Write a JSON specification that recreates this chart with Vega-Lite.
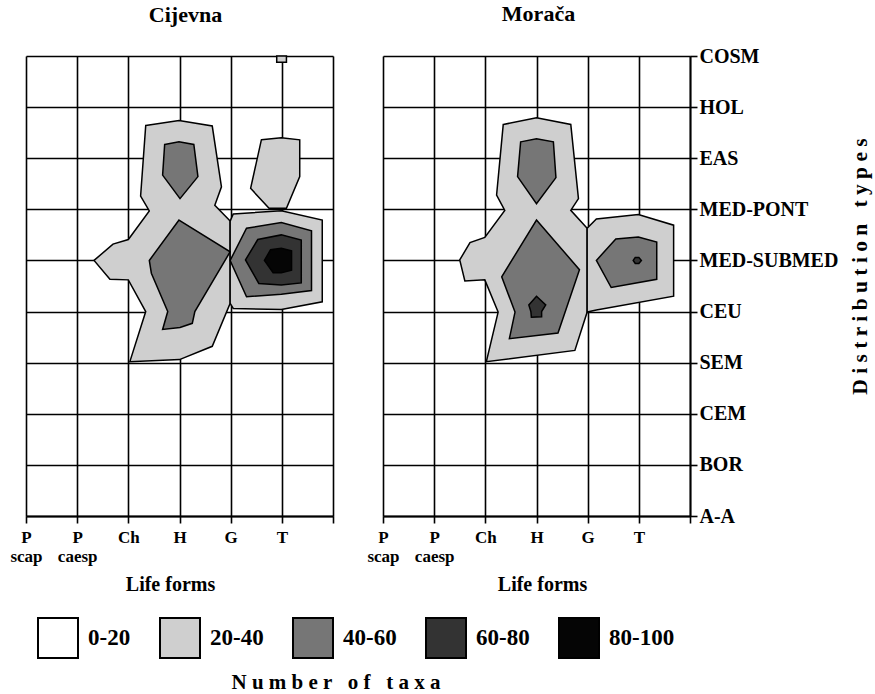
{
  "$schema": "https://vega.github.io/schema/vega-lite/v6.json",
  "padding": {"left": 9, "top": 3, "right": 2, "bottom": 2},
  "background": "white",
  "bounds": "flush",
  "spacing": 50,
  "config": {
    "font": "Liberation Serif",
    "view": {"stroke": null},
    "axis": {
      "labelFont": "Liberation Serif", "labelFontWeight": "bold", "labelColor": "black",
      "titleFont": "Liberation Serif", "titleFontWeight": "bold", "titleColor": "black",
      "gridColor": "black", "gridWidth": 1.6, "gridOpacity": 1,
      "tickColor": "black", "tickWidth": 1.6, "tickSize": 7,
      "domainColor": "black", "domainWidth": 1.8,
      "labelFlush": false, "labelOverlap": false, "labelBound": false, "zindex": 1
    }
  },
  "resolve": {"scale": {"fill": "independent", "x": "independent", "y": "independent"}, "legend": {"fill": "independent"}},
  "datasets": {
    "contours": [
      {"site":"Cijevna","poly":"C1","level":"20-40","i":0,"x":2.34,"y":7.64},
      {"site":"Cijevna","poly":"C1","level":"20-40","i":1,"x":2.99,"y":7.74},
      {"site":"Cijevna","poly":"C1","level":"20-40","i":2,"x":3.64,"y":7.63},
      {"site":"Cijevna","poly":"C1","level":"20-40","i":3,"x":3.82,"y":6.44},
      {"site":"Cijevna","poly":"C1","level":"20-40","i":4,"x":3.69,"y":6.08},
      {"site":"Cijevna","poly":"C1","level":"20-40","i":5,"x":3.99,"y":5.77},
      {"site":"Cijevna","poly":"C1","level":"20-40","i":6,"x":3.99,"y":4.16},
      {"site":"Cijevna","poly":"C1","level":"20-40","i":7,"x":3.64,"y":3.32},
      {"site":"Cijevna","poly":"C1","level":"20-40","i":8,"x":3.0,"y":3.06},
      {"site":"Cijevna","poly":"C1","level":"20-40","i":9,"x":2.03,"y":3.02},
      {"site":"Cijevna","poly":"C1","level":"20-40","i":10,"x":2.34,"y":4.0},
      {"site":"Cijevna","poly":"C1","level":"20-40","i":11,"x":2.0,"y":4.62},
      {"site":"Cijevna","poly":"C1","level":"20-40","i":12,"x":1.64,"y":4.63},
      {"site":"Cijevna","poly":"C1","level":"20-40","i":13,"x":1.33,"y":5.0},
      {"site":"Cijevna","poly":"C1","level":"20-40","i":14,"x":1.7,"y":5.32},
      {"site":"Cijevna","poly":"C1","level":"20-40","i":15,"x":2.0,"y":5.41},
      {"site":"Cijevna","poly":"C1","level":"20-40","i":16,"x":2.41,"y":5.97},
      {"site":"Cijevna","poly":"C1","level":"20-40","i":17,"x":2.24,"y":6.26},
      {"site":"Cijevna","poly":"C2","level":"20-40","i":0,"x":4.6,"y":7.36},
      {"site":"Cijevna","poly":"C2","level":"20-40","i":1,"x":4.99,"y":7.4},
      {"site":"Cijevna","poly":"C2","level":"20-40","i":2,"x":5.35,"y":7.36},
      {"site":"Cijevna","poly":"C2","level":"20-40","i":3,"x":5.35,"y":6.64},
      {"site":"Cijevna","poly":"C2","level":"20-40","i":4,"x":5.09,"y":6.02},
      {"site":"Cijevna","poly":"C2","level":"20-40","i":5,"x":4.75,"y":6.02},
      {"site":"Cijevna","poly":"C2","level":"20-40","i":6,"x":4.39,"y":6.41},
      {"site":"Cijevna","poly":"C3","level":"20-40","i":0,"x":4.05,"y":5.91},
      {"site":"Cijevna","poly":"C3","level":"20-40","i":1,"x":4.99,"y":5.97},
      {"site":"Cijevna","poly":"C3","level":"20-40","i":2,"x":5.79,"y":5.79},
      {"site":"Cijevna","poly":"C3","level":"20-40","i":3,"x":5.79,"y":4.19},
      {"site":"Cijevna","poly":"C3","level":"20-40","i":4,"x":4.99,"y":4.04},
      {"site":"Cijevna","poly":"C3","level":"20-40","i":5,"x":4.05,"y":4.06},
      {"site":"Cijevna","poly":"C3","level":"20-40","i":6,"x":3.99,"y":4.16},
      {"site":"Cijevna","poly":"C3","level":"20-40","i":7,"x":3.99,"y":5.77},
      {"site":"Cijevna","poly":"C4","level":"20-40","i":0,"x":4.9,"y":9.0},
      {"site":"Cijevna","poly":"C4","level":"20-40","i":1,"x":5.09,"y":9.0},
      {"site":"Cijevna","poly":"C4","level":"20-40","i":2,"x":5.09,"y":8.88},
      {"site":"Cijevna","poly":"C4","level":"20-40","i":3,"x":4.9,"y":8.88},
      {"site":"Cijevna","poly":"C5","level":"40-60","i":0,"x":2.71,"y":7.27},
      {"site":"Cijevna","poly":"C5","level":"40-60","i":1,"x":2.99,"y":7.32},
      {"site":"Cijevna","poly":"C5","level":"40-60","i":2,"x":3.28,"y":7.27},
      {"site":"Cijevna","poly":"C5","level":"40-60","i":3,"x":3.36,"y":6.64},
      {"site":"Cijevna","poly":"C5","level":"40-60","i":4,"x":3.01,"y":6.21},
      {"site":"Cijevna","poly":"C5","level":"40-60","i":5,"x":2.67,"y":6.67},
      {"site":"Cijevna","poly":"C6","level":"40-60","i":0,"x":2.99,"y":5.79},
      {"site":"Cijevna","poly":"C6","level":"40-60","i":1,"x":3.99,"y":5.17},
      {"site":"Cijevna","poly":"C6","level":"40-60","i":2,"x":3.3,"y":4.0},
      {"site":"Cijevna","poly":"C6","level":"40-60","i":3,"x":3.25,"y":3.77},
      {"site":"Cijevna","poly":"C6","level":"40-60","i":4,"x":3.01,"y":3.69},
      {"site":"Cijevna","poly":"C6","level":"40-60","i":5,"x":2.67,"y":3.65},
      {"site":"Cijevna","poly":"C6","level":"40-60","i":6,"x":2.77,"y":4.0},
      {"site":"Cijevna","poly":"C6","level":"40-60","i":7,"x":2.45,"y":4.75},
      {"site":"Cijevna","poly":"C6","level":"40-60","i":8,"x":2.41,"y":5.0},
      {"site":"Cijevna","poly":"C7","level":"40-60","i":0,"x":3.99,"y":5.0},
      {"site":"Cijevna","poly":"C7","level":"40-60","i":1,"x":4.31,"y":5.63},
      {"site":"Cijevna","poly":"C7","level":"40-60","i":2,"x":4.99,"y":5.74},
      {"site":"Cijevna","poly":"C7","level":"40-60","i":3,"x":5.58,"y":5.58},
      {"site":"Cijevna","poly":"C7","level":"40-60","i":4,"x":5.58,"y":4.41},
      {"site":"Cijevna","poly":"C7","level":"40-60","i":5,"x":4.99,"y":4.34},
      {"site":"Cijevna","poly":"C7","level":"40-60","i":6,"x":4.31,"y":4.29},
      {"site":"Cijevna","poly":"C8","level":"60-80","i":0,"x":4.29,"y":5.01},
      {"site":"Cijevna","poly":"C8","level":"60-80","i":1,"x":4.53,"y":5.41},
      {"site":"Cijevna","poly":"C8","level":"60-80","i":2,"x":4.99,"y":5.5},
      {"site":"Cijevna","poly":"C8","level":"60-80","i":3,"x":5.38,"y":5.4},
      {"site":"Cijevna","poly":"C8","level":"60-80","i":4,"x":5.38,"y":4.56},
      {"site":"Cijevna","poly":"C8","level":"60-80","i":5,"x":4.99,"y":4.52},
      {"site":"Cijevna","poly":"C8","level":"60-80","i":6,"x":4.55,"y":4.55},
      {"site":"Cijevna","poly":"C9","level":"80-100","i":0,"x":4.66,"y":5.0},
      {"site":"Cijevna","poly":"C9","level":"80-100","i":1,"x":4.78,"y":5.21},
      {"site":"Cijevna","poly":"C9","level":"80-100","i":2,"x":4.99,"y":5.24},
      {"site":"Cijevna","poly":"C9","level":"80-100","i":3,"x":5.19,"y":5.19},
      {"site":"Cijevna","poly":"C9","level":"80-100","i":4,"x":5.19,"y":4.81},
      {"site":"Cijevna","poly":"C9","level":"80-100","i":5,"x":4.99,"y":4.76},
      {"site":"Cijevna","poly":"C9","level":"80-100","i":6,"x":4.83,"y":4.76},
      {"site":"Morača","poly":"M1","level":"20-40","i":0,"x":2.35,"y":7.66},
      {"site":"Morača","poly":"M1","level":"20-40","i":1,"x":3.0,"y":7.79},
      {"site":"Morača","poly":"M1","level":"20-40","i":2,"x":3.67,"y":7.66},
      {"site":"Morača","poly":"M1","level":"20-40","i":3,"x":3.82,"y":6.21},
      {"site":"Morača","poly":"M1","level":"20-40","i":4,"x":3.67,"y":5.98},
      {"site":"Morača","poly":"M1","level":"20-40","i":5,"x":3.99,"y":5.63},
      {"site":"Morača","poly":"M1","level":"20-40","i":6,"x":3.99,"y":3.99},
      {"site":"Morača","poly":"M1","level":"20-40","i":7,"x":3.75,"y":3.24},
      {"site":"Morača","poly":"M1","level":"20-40","i":8,"x":2.02,"y":3.02},
      {"site":"Morača","poly":"M1","level":"20-40","i":9,"x":2.25,"y":3.99},
      {"site":"Morača","poly":"M1","level":"20-40","i":10,"x":1.99,"y":4.62},
      {"site":"Morača","poly":"M1","level":"20-40","i":11,"x":1.6,"y":4.6},
      {"site":"Morača","poly":"M1","level":"20-40","i":12,"x":1.5,"y":5.01},
      {"site":"Morača","poly":"M1","level":"20-40","i":13,"x":1.7,"y":5.35},
      {"site":"Morača","poly":"M1","level":"20-40","i":14,"x":1.99,"y":5.45},
      {"site":"Morača","poly":"M1","level":"20-40","i":15,"x":2.38,"y":5.98},
      {"site":"Morača","poly":"M1","level":"20-40","i":16,"x":2.22,"y":6.28},
      {"site":"Morača","poly":"M2","level":"20-40","i":0,"x":3.99,"y":5.63},
      {"site":"Morača","poly":"M2","level":"20-40","i":1,"x":4.17,"y":5.81},
      {"site":"Morača","poly":"M2","level":"20-40","i":2,"x":4.99,"y":5.9},
      {"site":"Morača","poly":"M2","level":"20-40","i":3,"x":5.68,"y":5.69},
      {"site":"Morača","poly":"M2","level":"20-40","i":4,"x":5.68,"y":4.3},
      {"site":"Morača","poly":"M2","level":"20-40","i":5,"x":4.17,"y":4.03},
      {"site":"Morača","poly":"M2","level":"20-40","i":6,"x":3.99,"y":3.99},
      {"site":"Morača","poly":"M3","level":"40-60","i":0,"x":2.69,"y":7.32},
      {"site":"Morača","poly":"M3","level":"40-60","i":1,"x":3.0,"y":7.38},
      {"site":"Morača","poly":"M3","level":"40-60","i":2,"x":3.33,"y":7.32},
      {"site":"Morača","poly":"M3","level":"40-60","i":3,"x":3.38,"y":6.62},
      {"site":"Morača","poly":"M3","level":"40-60","i":4,"x":3.0,"y":6.11},
      {"site":"Morača","poly":"M3","level":"40-60","i":5,"x":2.63,"y":6.64},
      {"site":"Morača","poly":"M4","level":"40-60","i":0,"x":3.0,"y":5.79},
      {"site":"Morača","poly":"M4","level":"40-60","i":1,"x":3.84,"y":4.82},
      {"site":"Morača","poly":"M4","level":"40-60","i":2,"x":3.42,"y":3.58},
      {"site":"Morača","poly":"M4","level":"40-60","i":3,"x":2.47,"y":3.47},
      {"site":"Morača","poly":"M4","level":"40-60","i":4,"x":2.58,"y":3.99},
      {"site":"Morača","poly":"M4","level":"40-60","i":5,"x":2.32,"y":4.68},
      {"site":"Morača","poly":"M5","level":"40-60","i":0,"x":4.17,"y":5.0},
      {"site":"Morača","poly":"M5","level":"40-60","i":1,"x":4.55,"y":5.42},
      {"site":"Morača","poly":"M5","level":"40-60","i":2,"x":4.99,"y":5.46},
      {"site":"Morača","poly":"M5","level":"40-60","i":3,"x":5.35,"y":5.36},
      {"site":"Morača","poly":"M5","level":"40-60","i":4,"x":5.35,"y":4.63},
      {"site":"Morača","poly":"M5","level":"40-60","i":5,"x":4.46,"y":4.47},
      {"site":"Morača","poly":"M6","level":"60-80","i":0,"x":3.0,"y":4.3},
      {"site":"Morača","poly":"M6","level":"60-80","i":1,"x":3.18,"y":4.13},
      {"site":"Morača","poly":"M6","level":"60-80","i":2,"x":3.1,"y":4.0},
      {"site":"Morača","poly":"M6","level":"60-80","i":3,"x":3.1,"y":3.9},
      {"site":"Morača","poly":"M6","level":"60-80","i":4,"x":2.9,"y":3.89},
      {"site":"Morača","poly":"M6","level":"60-80","i":5,"x":2.89,"y":4.0},
      {"site":"Morača","poly":"M6","level":"60-80","i":6,"x":2.85,"y":4.13},
      {"site":"Morača","poly":"M7","level":"60-80","i":0,"x":4.89,"y":5.0},
      {"site":"Morača","poly":"M7","level":"60-80","i":1,"x":4.93,"y":5.06},
      {"site":"Morača","poly":"M7","level":"60-80","i":2,"x":5.0,"y":5.06},
      {"site":"Morača","poly":"M7","level":"60-80","i":3,"x":5.05,"y":5.0},
      {"site":"Morača","poly":"M7","level":"60-80","i":4,"x":5.0,"y":4.94},
      {"site":"Morača","poly":"M7","level":"60-80","i":5,"x":4.93,"y":4.94}
    ]
  },
  "hconcat": [
    {
      "width": 307, "height": 460,
      "title": {"text": "Cijevna", "fontSize": 22, "font": "Liberation Serif", "fontWeight": "bold", "color": "black", "anchor": "middle", "baseline": "alphabetic", "offset": 9, "dx": 6},
      "data": {"name": "contours"},
      "transform": [{"filter": "datum.site == 'Cijevna'"}],
      "resolve": {"axis": {"x": "independent"}},
      "encoding": {
        "x": {"field": "x", "type": "quantitative", "scale": {"domain": [0, 6], "nice": false, "zero": false}, "axis": null},
        "y": {"field": "y", "type": "quantitative", "scale": {"domain": [0, 9], "nice": false, "zero": false},
          "axis": {"values": [0,1,2,3,4,5,6,7,8,9], "grid": true, "labels": false, "ticks": false, "domain": false, "title": null}},
        "order": {"field": "i", "type": "quantitative"},
        "detail": {"field": "poly", "type": "nominal"},
        "fill": {"field": "level", "type": "nominal", "scale": {"domain": ["0-20","20-40","40-60","60-80","80-100"], "range": ["#ffffff","#cfcfcf","#767676","#333333","#050505"]}, "legend": null}
      },
      "layer": [
        {"transform": [{"filter": "datum.level == '20-40'"}], "mark": {"type": "line", "interpolate": "linear-closed", "stroke": "black", "strokeWidth": 1.5},
          "encoding": {"x": {"field": "x", "type": "quantitative", "scale": {"domain": [0, 6], "nice": false, "zero": false},
            "axis": {"orient": "bottom", "values": [0,1,2,3,4,5,6], "grid": true, "ticks": true, "domain": true, "labelFontSize": 17, "labelPadding": 6,
              "labelExpr": "datum.value <= 1 ? 'P' : datum.value == 2 ? 'Ch' : datum.value == 3 ? 'H' : datum.value == 4 ? 'G' : datum.value == 5 ? 'T' : ''",
              "title": "Life forms", "titleFontSize": 20, "titleX": 144, "titleY": 74, "titleAlign": "center", "titleBaseline": "alphabetic"}}}},
        {"transform": [{"filter": "datum.level == '40-60'"}], "mark": {"type": "line", "interpolate": "linear-closed", "stroke": "black", "strokeWidth": 1.5},
          "encoding": {"x": {"field": "x", "type": "quantitative", "scale": {"domain": [0, 6], "nice": false, "zero": false},
            "axis": {"orient": "bottom", "values": [0,1], "grid": false, "ticks": false, "tickSize": 0, "domain": false, "labelFontSize": 17, "labelPadding": 32,
              "labelExpr": "datum.value == 0 ? 'scap' : 'caesp'", "title": null}}}},
        {"transform": [{"filter": "datum.level == '60-80'"}], "mark": {"type": "line", "interpolate": "linear-closed", "stroke": "black", "strokeWidth": 1.5}},
        {"transform": [{"filter": "datum.level == '80-100'"}], "mark": {"type": "line", "interpolate": "linear-closed", "stroke": "black", "strokeWidth": 1.5}}
      ]
    },
    {
      "width": 307, "height": 460,
      "title": {"text": "Morača", "fontSize": 22, "font": "Liberation Serif", "fontWeight": "bold", "color": "black", "anchor": "middle", "baseline": "alphabetic", "offset": 3, "dx": 2},
      "data": {"name": "contours"},
      "transform": [{"filter": "datum.site == 'Morača'"}],
      "resolve": {"axis": {"x": "independent"}},
      "encoding": {
        "x": {"field": "x", "type": "quantitative", "scale": {"domain": [0, 6], "nice": false, "zero": false}, "axis": null},
        "y": {"field": "y", "type": "quantitative", "scale": {"domain": [0, 9], "nice": false, "zero": false},
          "axis": {"orient": "right", "values": [0,1,2,3,4,5,6,7,8,9], "grid": true, "ticks": true, "domain": true, "labelFontSize": 20, "labelPadding": 2,
            "labelExpr": "['A-A','BOR','CEM','SEM','CEU','MED-SUBMED','MED-PONT','EAS','HOL','COSM'][datum.value]",
            "title": "D i s t r i b u t i o n \u00a0 t y p e s", "titleFontSize": 21.5, "titleAngle": 270, "titleX": 170, "titleY": 210, "titleAlign": "center", "titleBaseline": "middle", "titleLimit": 500}},
        "order": {"field": "i", "type": "quantitative"},
        "detail": {"field": "poly", "type": "nominal"},
        "fill": {"field": "level", "type": "nominal", "scale": {"domain": ["0-20","20-40","40-60","60-80","80-100"], "range": ["#ffffff","#cfcfcf","#767676","#333333","#050505"]},
          "legend": {"orient": "none", "legendX": -346, "legendY": 561, "direction": "horizontal", "padding": 0,
            "symbolType": "square", "symbolSize": 1600, "symbolStrokeColor": "black", "symbolStrokeWidth": 2, "symbolOpacity": 1,
            "labelFont": "Liberation Serif", "labelFontWeight": "bold", "labelFontSize": 23, "labelColor": "black", "labelOffset": 9,
            "columnPadding": 25,
            "title": "N u m b e r \u00a0 o f \u00a0 t a x a", "titleOrient": "bottom", "titleAnchor": "middle", "titleFont": "Liberation Serif", "titleFontWeight": "bold", "titleFontSize": 21, "titleColor": "black", "titlePadding": 10, "titleLimit": 500,
            "encode": {"title": {"update": {"dx": {"value": -20}}}}}}
      },
      "layer": [
        {"transform": [{"filter": "datum.level == '20-40'"}], "mark": {"type": "line", "interpolate": "linear-closed", "stroke": "black", "strokeWidth": 1.5},
          "encoding": {"x": {"field": "x", "type": "quantitative", "scale": {"domain": [0, 6], "nice": false, "zero": false},
            "axis": {"orient": "bottom", "values": [0,1,2,3,4,5,6], "grid": true, "ticks": true, "domain": true, "labelFontSize": 17, "labelPadding": 6,
              "labelExpr": "datum.value <= 1 ? 'P' : datum.value == 2 ? 'Ch' : datum.value == 3 ? 'H' : datum.value == 4 ? 'G' : datum.value == 5 ? 'T' : ''",
              "title": "Life forms", "titleFontSize": 20, "titleX": 159, "titleY": 74, "titleAlign": "center", "titleBaseline": "alphabetic"}}}},
        {"transform": [{"filter": "datum.level == '40-60'"}], "mark": {"type": "line", "interpolate": "linear-closed", "stroke": "black", "strokeWidth": 1.5},
          "encoding": {"x": {"field": "x", "type": "quantitative", "scale": {"domain": [0, 6], "nice": false, "zero": false},
            "axis": {"orient": "bottom", "values": [0,1], "grid": false, "ticks": false, "tickSize": 0, "domain": false, "labelFontSize": 17, "labelPadding": 32,
              "labelExpr": "datum.value == 0 ? 'scap' : 'caesp'", "title": null}}}},
        {"transform": [{"filter": "datum.level == '60-80'"}], "mark": {"type": "line", "interpolate": "linear-closed", "stroke": "black", "strokeWidth": 1.5}},
        {"transform": [{"filter": "datum.level == '80-100'"}], "mark": {"type": "line", "interpolate": "linear-closed", "stroke": "black", "strokeWidth": 1.5}}
      ]
    }
  ]
}
